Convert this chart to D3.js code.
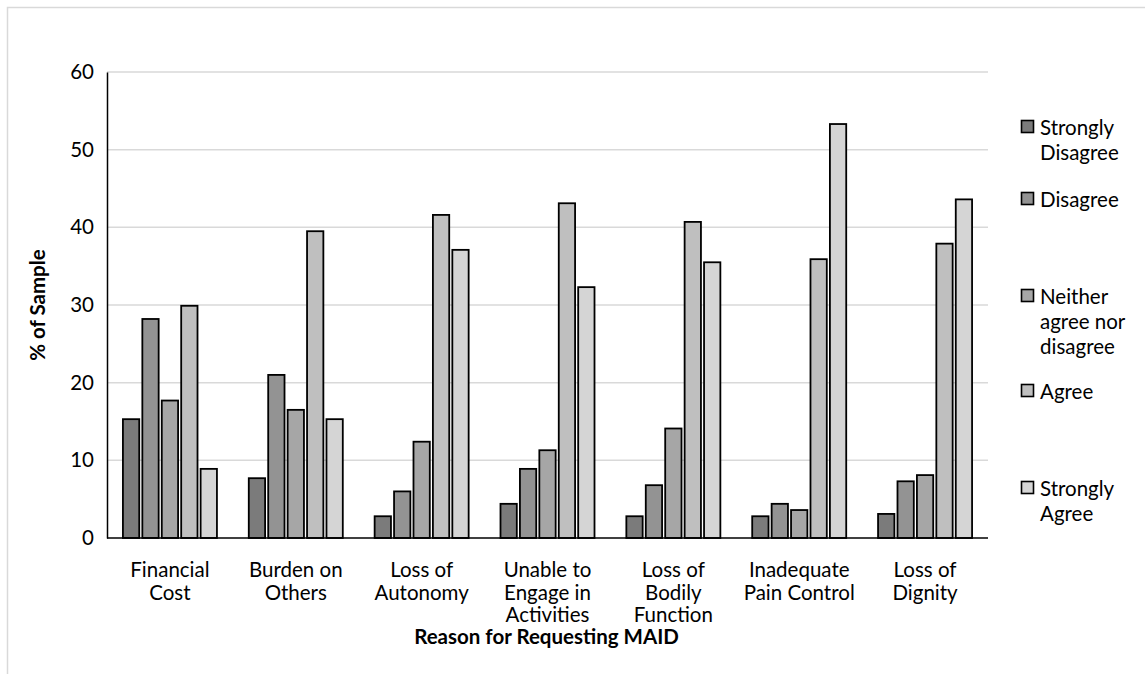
<!DOCTYPE html>
<html>
<head>
<meta charset="utf-8">
<script src="https://cdn.jsdelivr.net/npm/d3@7"></script>
<style>
  html, body { margin: 0; padding: 0; background: #fff; }
  svg { display: block; }
  text { font-family: Lato, "Open Sans", sans-serif; fill: #000; }
</style>
</head>
<body>
<svg id="chart" width="1145" height="674"></svg>
<script>
const categories = [
  ["Financial", "Cost"],
  ["Burden on", "Others"],
  ["Loss of", "Autonomy"],
  ["Unable to", "Engage in", "Activities"],
  ["Loss of", "Bodily", "Function"],
  ["Inadequate", "Pain Control"],
  ["Loss of", "Dignity"]
];
const seriesNames = ["Strongly Disagree", "Disagree", "Neither agree nor disagree", "Agree", "Strongly Agree"];
const legendLines = [["Strongly", "Disagree"], ["Disagree"], ["Neither", "agree nor", "disagree"], ["Agree"], ["Strongly", "Agree"]];
const stronglyDisagree = [15.3, 7.7, 2.8, 4.4, 2.8, 2.8, 3.1];
const disagree         = [28.2, 21.0, 6.0, 8.9, 6.8, 4.4, 7.3];
const neither          = [17.7, 16.5, 12.4, 11.3, 14.1, 3.6, 8.1];
const agree            = [29.9, 39.5, 41.6, 43.1, 40.7, 35.9, 37.9];
const stronglyAgree    = [8.9, 15.3, 37.1, 32.3, 35.5, 53.3, 43.6];
const yTicks = [0, 10, 20, 30, 40, 50, 60];
const colors = ["#7b7b7b", "#939393", "#a6a6a6", "#bfbfbf", "#d5d5d5"];

const seriesValues = [stronglyDisagree, disagree, neither, agree, stronglyAgree];

const svg = d3.select("#chart");
const plot = { left: 107, right: 988, top: 72, bottom: 538 };
const fs = "20.5px";

// outer border
svg.append("rect").attr("x", 7.5).attr("y", 7.5).attr("width", 1160).attr("height", 700)
  .attr("fill", "none").attr("stroke", "#d9d9d9").attr("stroke-width", 1.5);

const x0 = d3.scaleBand().domain(d3.range(categories.length))
  .range([plot.left, plot.right]).paddingInner(0.253).paddingOuter(0.1265);
const x1 = d3.scaleBand().domain(d3.range(seriesNames.length))
  .range([0, x0.bandwidth()]).paddingInner(0.16).paddingOuter(0);
const y = d3.scaleLinear().domain([0, 60]).range([plot.bottom, plot.top]);

// gridlines
svg.append("g").selectAll("line").data(yTicks.filter(d => d > 0)).join("line")
  .attr("x1", plot.left).attr("x2", plot.right)
  .attr("y1", d => y(d)).attr("y2", d => y(d))
  .attr("stroke", "#d9d9d9").attr("stroke-width", 1.5);

// bars
const groups = svg.append("g").selectAll("g").data(categories).join("g")
  .attr("transform", (d, i) => `translate(${x0(i)},0)`);
groups.selectAll("rect").data((d, i) => seriesValues.map((s, j) => ({ j, v: s[i] }))).join("rect")
  .attr("x", d => x1(d.j))
  .attr("width", x1.bandwidth())
  .attr("y", d => y(d.v))
  .attr("height", d => y(0) - y(d.v))
  .attr("fill", d => colors[d.j])
  .attr("stroke", "#000").attr("stroke-width", 1.8);

// y axis
const yAxis = d3.axisLeft(y).tickValues(yTicks).tickSize(0).tickPadding(13);
const ya = svg.append("g").attr("transform", `translate(${plot.left},0)`).call(yAxis);
ya.select(".domain").attr("stroke", "#000").attr("stroke-width", 1.5);
ya.selectAll("text").style("font-size", fs).style("font-family", "Lato, sans-serif").attr("fill", "#000");

// x axis line
svg.append("line").attr("x1", plot.left).attr("x2", plot.right)
  .attr("y1", plot.bottom).attr("y2", plot.bottom)
  .attr("stroke", "#000").attr("stroke-width", 1.5);

// category labels
const xl = svg.append("g");
categories.forEach((lines, i) => {
  const t = xl.append("text").attr("text-anchor", "middle")
    .attr("x", x0(i) + x0.bandwidth() / 2).attr("y", 577)
    .style("font-size", fs);
  lines.forEach((ln, k) => t.append("tspan").attr("x", x0(i) + x0.bandwidth() / 2)
    .attr("dy", k === 0 ? 0 : 22.5).text(ln));
});

// axis titles
svg.append("text").attr("x", (plot.left + plot.right) / 2 - 1).attr("y", 644)
  .attr("text-anchor", "middle").style("font-size", fs).style("font-weight", "bold")
  .text("Reason for Requesting MAID");
svg.append("text").attr("transform", `translate(45,${(plot.top + plot.bottom) / 2}) rotate(-90)`)
  .attr("text-anchor", "middle").style("font-size", fs).style("font-weight", "bold")
  .text("% of Sample");

// legend
const legendY = [127, 199, 296, 391, 488];
const lg = svg.append("g");
legendLines.forEach((lines, i) => {
  lg.append("rect").attr("x", 1021.5).attr("y", legendY[i] - 6.5).attr("width", 12).attr("height", 12)
    .attr("fill", colors[i]).attr("stroke", "#000").attr("stroke-width", 1.6);
  const t = lg.append("text").attr("x", 1040).attr("y", legendY[i] + 7.5).style("font-size", fs);
  lines.forEach((ln, k) => t.append("tspan").attr("x", 1040).attr("dy", k === 0 ? 0 : 25).text(ln));
});
</script>
</body>
</html>
